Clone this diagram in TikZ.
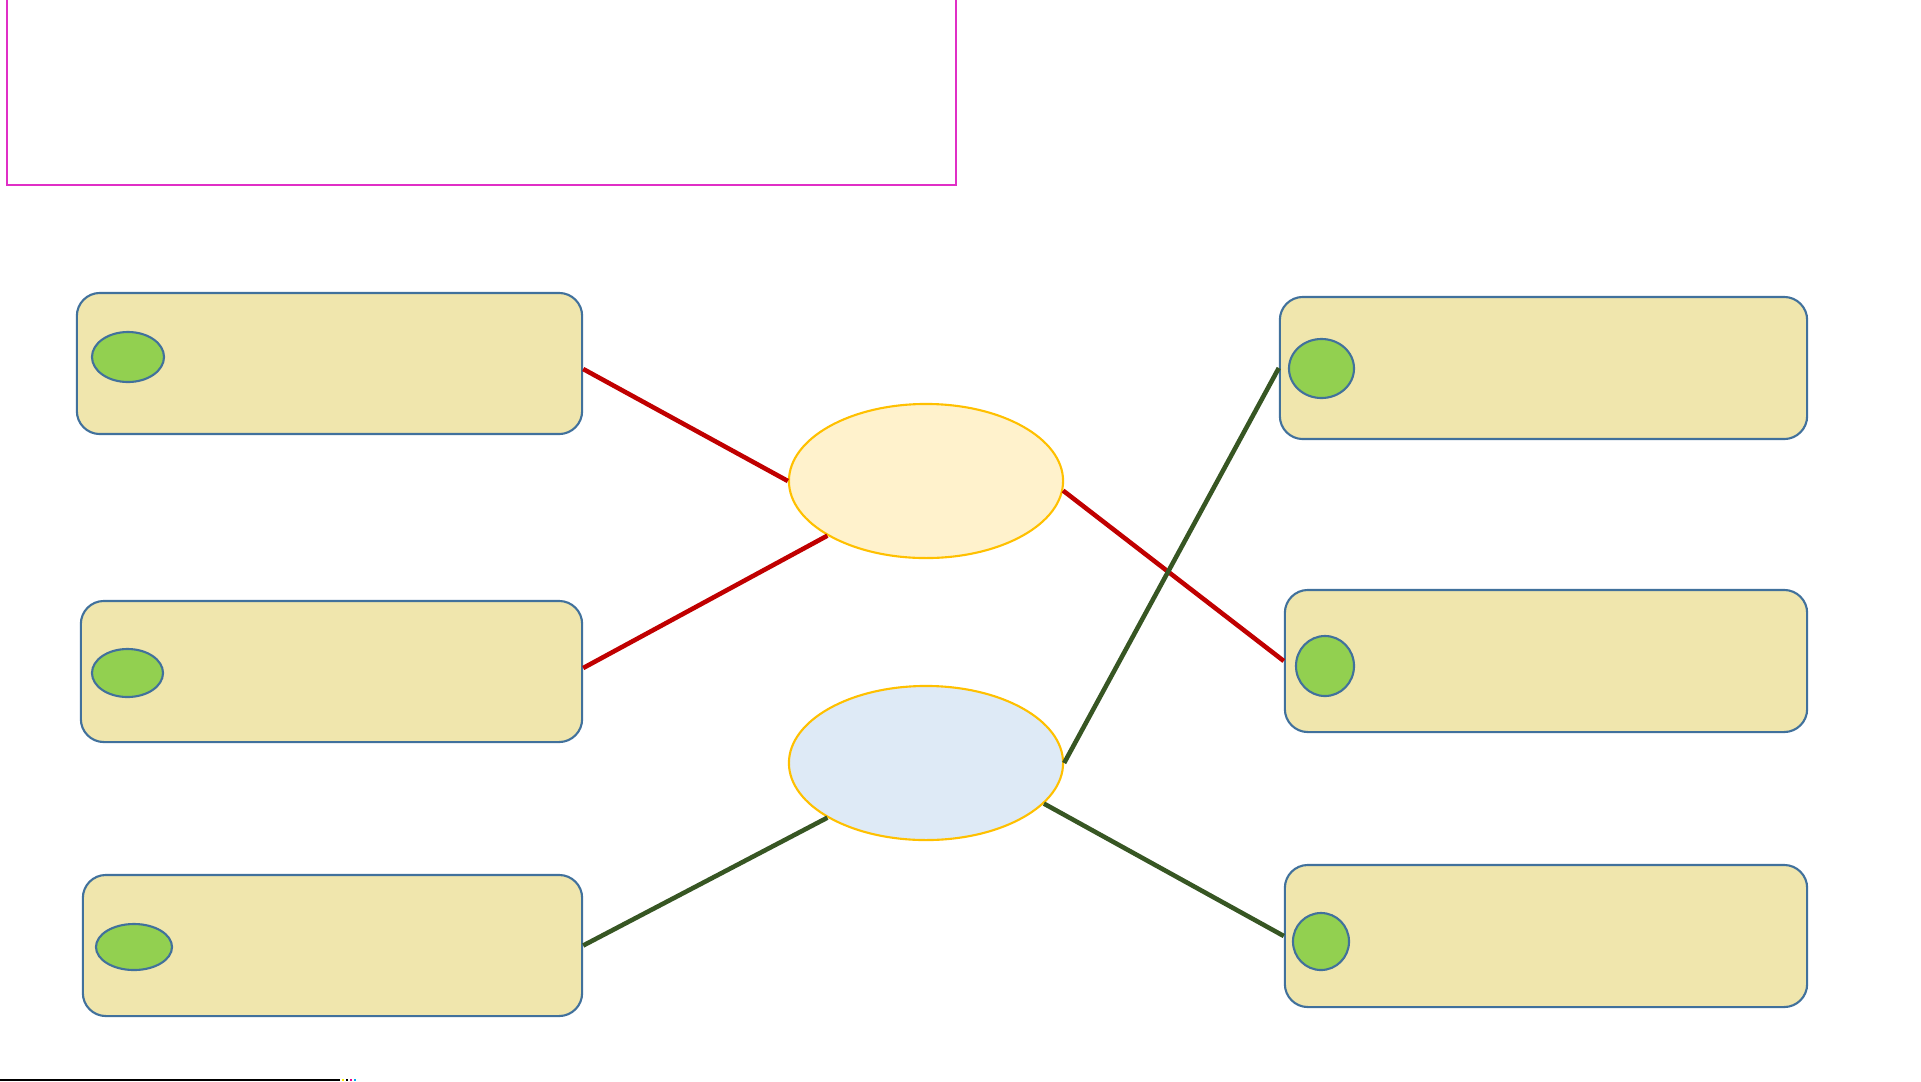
\documentclass[tikz,border=0pt]{standalone}
\usetikzlibrary{shapes.geometric}

\definecolor{boxfill}{HTML}{F0E6AD}
\definecolor{boxline}{HTML}{41719C}
\definecolor{dotfill}{HTML}{92D050}
\definecolor{hubline}{HTML}{FFC000}
\definecolor{hubyellow}{HTML}{FFF2CC}
\definecolor{hubblue}{HTML}{DEEAF6}
\definecolor{linkred}{HTML}{C00000}
\definecolor{linkgreen}{HTML}{375623}
\definecolor{framepink}{HTML}{E02FC6}

\begin{document}
\begin{tikzpicture}[x=0.01cm,y=-0.01cm]
	\tikzset{
		box/.style={draw=boxline, fill=boxfill, rounded corners=0.23cm, line width=0.6pt, inner sep=0pt},
		dot/.style={ellipse, draw=boxline, fill=dotfill, line width=0.6pt, inner sep=0pt},
		hub/.style={ellipse, draw=hubline, line width=0.6pt, inner sep=0pt, minimum width=2.74cm, minimum height=1.54cm},
		redlink/.style={draw=linkred, line width=1.3pt},
		greenlink/.style={draw=linkgreen, line width=1.3pt}
	}
	\useasboundingbox (0,0) rectangle (1921,1081);

	% Frame at the top left
	\draw[framepink, line width=0.6pt] (7,-5) rectangle (956,185);

	% Left boxes
	\node[box, minimum width=5.05cm, minimum height=1.41cm] (boxA) at (329.5,363.5) {};
	\node[box, minimum width=5.01cm, minimum height=1.41cm] (boxB) at (331.5,671.5) {};
	\node[box, minimum width=4.99cm, minimum height=1.41cm] (boxC) at (332.5,945.5) {};

	% Right boxes
	\node[box, minimum width=5.27cm, minimum height=1.42cm] (boxD) at (1543.5,368) {};
	\node[box, minimum width=5.22cm, minimum height=1.42cm] (boxE) at (1546,661) {};
	\node[box, minimum width=5.22cm, minimum height=1.42cm] (boxF) at (1546,936) {};

	% Green markers inside the boxes
	\node[dot, minimum width=0.72cm, minimum height=0.50cm] (dotA) at (128,357) {};
	\node[dot, minimum width=0.71cm, minimum height=0.48cm] (dotB) at (127.5,673) {};
	\node[dot, minimum width=0.76cm, minimum height=0.46cm] (dotC) at (134,947) {};
	\node[dot, minimum width=0.65cm, minimum height=0.59cm] (dotD) at (1321.5,368.5) {};
	\node[dot, minimum width=0.58cm, minimum height=0.60cm] (dotE) at (1325,666) {};
	\node[dot, minimum width=0.56cm, minimum height=0.57cm] (dotF) at (1321,941.5) {};

	% The two hubs
	\node[hub, fill=hubyellow] (hubTop) at (926,481) {};
	\node[hub, fill=hubblue] (hubLow) at (926,763) {};

	% Red links
	\draw[redlink] ([yshift=-0.055cm]boxA.east) -- (hubTop.west);
	\draw[redlink] ([yshift=0.035cm]boxB.east) -- (hubTop.209);
	\draw[redlink] (hubTop.356) -- (boxE.west);

	% Green links
	\draw[greenlink] (boxC.east) -- (hubLow.209);
	\draw[greenlink] (hubLow.east) -- (boxD.west);
	\draw[greenlink] (hubLow.341) -- (boxF.west);

	% Rule at the bottom edge
	\draw[line width=0.4pt] (0,1080) -- (340,1080);
	\foreach \c [count=\i] in {yellow,black,magenta,cyan}
		\draw[\c, line width=0.4pt] (338+4*\i,1080) -- (340+4*\i,1080);
\end{tikzpicture}
\end{document}
